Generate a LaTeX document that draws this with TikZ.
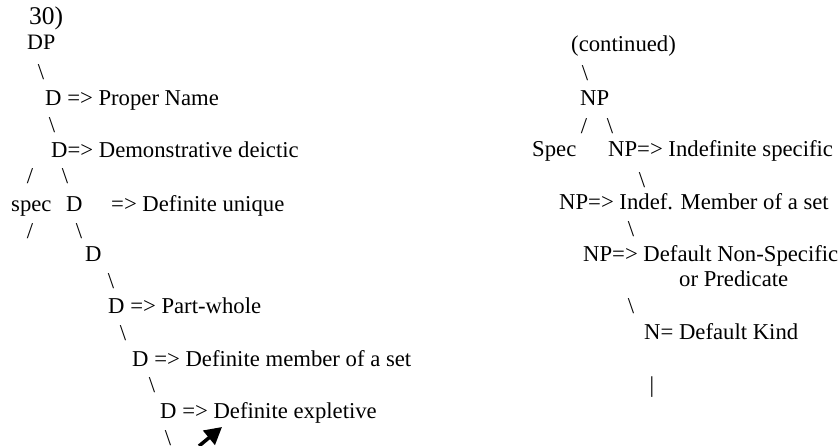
\documentclass[tikz,border=0pt]{standalone}
\usepackage{fontspec}
\setmainfont{Liberation Serif}
\usetikzlibrary{arrows.meta}
\begin{document}
\begin{tikzpicture}[x=1pt,y=-1pt,
  t/.style={anchor=base west,inner sep=0pt,font=\fontsize{22.7}{27}\selectfont},
  sl/.style={anchor=center,inner sep=0pt,font=\fontsize{22.7}{27}\selectfont},
  bs/.style={sl},
  fs/.style={sl}]
\useasboundingbox[fill=white] (0,0) rectangle (838,446);
% left tree
\node[t,font=\fontsize{25.5}{30}\selectfont] (num) at (29,25) {30)};
\node[t,font=\fontsize{22}{26}\selectfont] (dp) at (27,50) {DP};
\node[bs] (b1) at (41,72) {\textbackslash};
\node[t] (d1) at (45,106) {D => Proper Name};
\node[bs] (b2) at (52,125) {\textbackslash};
\node[t] (d2) at (51,158) {D=> Demonstrative deictic};
\node[fs] (f1) at (30,176) {/};
\node[bs] (b3) at (65,176) {\textbackslash};
\node[t] (spec) at (11,212) {spec};
\node[t] (d3) at (66,212) {D};
\node[t] (d3l) at (111,212) {=> Definite unique};
\node[fs] (f2) at (30,231) {/};
\node[bs] (b4) at (79,231) {\textbackslash};
\node[t] (d4) at (85,262) {D};
\node[bs] (b5) at (111,281) {\textbackslash};
\node[t] (d5) at (108,314) {D => Part-whole};
\node[bs] (b6) at (123,333) {\textbackslash};
\node[t] (d6) at (132,366) {D => Definite member of a set};
\node[bs] (b7) at (152,385) {\textbackslash};
\node[t] (d7) at (160,418) {D => Definite expletive};
\node[bs] (b8) at (168,438) {\textbackslash};
\coordinate (atail) at (199,446);
\coordinate (ahead) at (222,427);
\draw[line width=3.5pt,-{Triangle[length=17pt,width=18pt]}] (atail) -- (ahead);
% right tree
\node[t] (cont) at (571,52) {(continued)};
\node[bs] (r1) at (585,73) {\textbackslash};
\node[t] (np) at (580,106) {NP};
\node[fs] (r2) at (584,126) {/};
\node[bs] (r3) at (610,126) {\textbackslash};
\node[t] (sp) at (532,157) {Spec};
\node[t] (np1) at (608,157) {NP=> Indefinite specific};
\node[bs] (r4) at (642,180) {\textbackslash};
\node[t] (np2) at (559,210) {NP=> Indef. Member of a set};
\node[bs] (r5) at (631,229) {\textbackslash};
\node[t] (np3) at (583,262) {NP=> Default Non-Specific};
\node[t] (np3b) at (679,287) {or Predicate};
\node[bs] (r6) at (631,306) {\textbackslash};
\node[t] (nk) at (644,340) {N= Default Kind};
\node[sl] (bar) at (652,387) {|};
\end{tikzpicture}
\end{document}
